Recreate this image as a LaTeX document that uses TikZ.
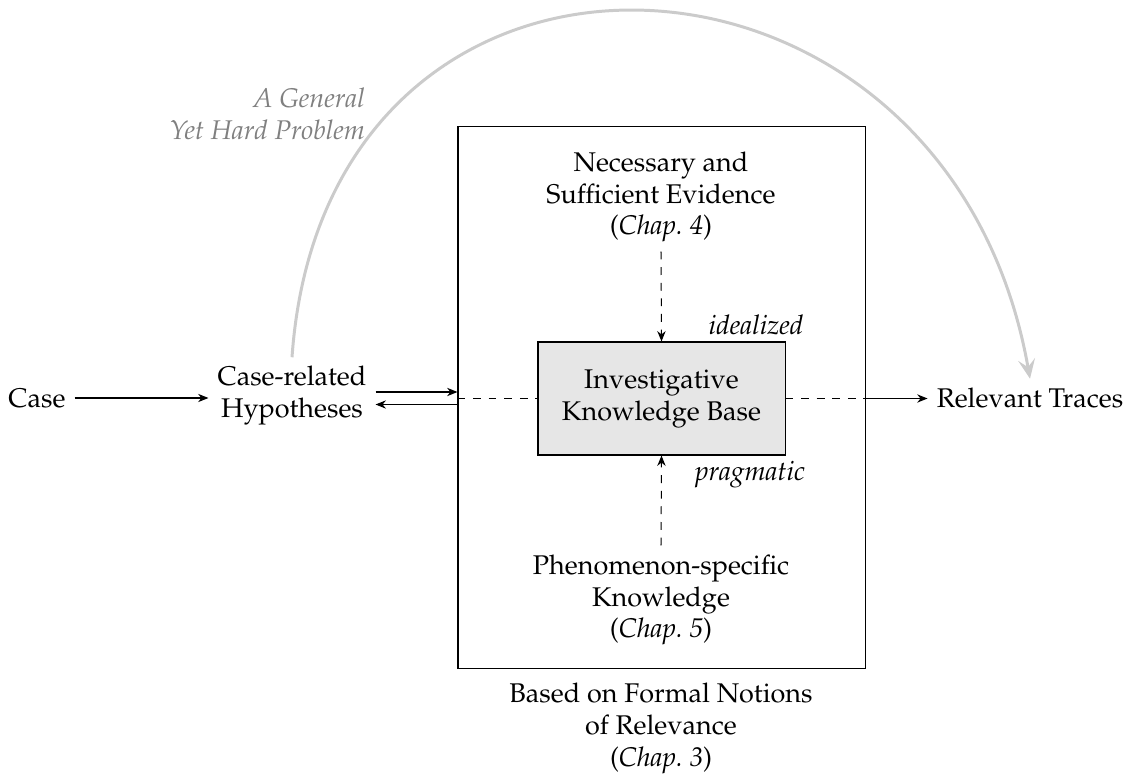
\documentclass[tikz,border=0pt]{standalone}
\usepackage[T1]{fontenc}
\usepackage{mathpazo}
\usetikzlibrary{arrows.meta}
\definecolor{arcgray}{HTML}{CBCBCB}
\definecolor{notegray}{HTML}{808080}
\definecolor{kbfill}{HTML}{E6E6E6}
\begin{document}
\begin{tikzpicture}[x=0.385pt,y=0.385pt,
  every node/.style={font=\fontsize{10.4}{12.3}\selectfont, align=center},
  arr/.style={-{Stealth[length=4pt,width=3.2pt,inset=1.3pt]}, line width=0.4pt},
  dashline/.style={dashed, line width=0.4pt},
  bigarc/.style={arcgray, line width=1.15pt, -{Stealth[length=7.5pt,width=6.5pt,inset=3pt]}},
  note/.style={font=\fontsize{10.4}{12.3}\selectfont\itshape},
  framebox/.style={draw, line width=0.4pt, inner sep=0pt},
  kbbox/.style={draw, fill=kbfill, line width=0.4pt, inner sep=0pt}
]
\useasboundingbox (0,0) rectangle (1126,776);

% outer frame and knowledge base
\node[framebox, minimum width=156.7pt, minimum height=208.3pt] (frame) at (661.5,378.5) {};
\node[kbbox, minimum width=95.1pt, minimum height=43.5pt] (kb) at (661.5,377.5) {Investigative\\Knowledge Base};

% texts
\node (case) at (37,378) {Case};
\node (hyp) at (292,380) {Case-related\\Hypotheses};
\node (traces) at (1030,378) {Relevant Traces};
\node (nec) at (661,579) {Necessary and\\Sufficient Evidence\\(\textit{Chap.~4})};
\node (phen) at (661,176) {Phenomenon-specific\\Knowledge\\(\textit{Chap.~5})};
\node (based) at (661,48) {Based on Formal Notions\\of Relevance\\(\textit{Chap.~3})};
\node[note] (ideal) at (756,451) {idealized};
\node[note] (prag) at (750,302) {pragmatic};
\node[note, notegray, align=right, anchor=east] (general) at (374,662) {A General\\Yet Hard Problem};

% connectors
\draw[arr] (case.east) -- (case.east -| hyp.west);
\draw[arr] (hyp.east |- 0,384) -- (frame.west |- 0,384);
\draw[arr] (frame.west |- 0,371.5) -- (hyp.east |- 0,371.5);
\draw[dashline] (frame.west |- kb.west) -- (kb.west);
\draw[dashline] (kb.east) -- (kb.east -| frame.east);
\draw[arr] (kb.east -| frame.east) -- (kb.east -| traces.west);
\draw[arr, dashline] (nec.south) -- (kb.north);
\draw[arr, dashline] (phen.north) -- (kb.south);

% the direct route
\draw[bigarc] (hyp.north) to[out=86, in=100, looseness=1.66] (traces.north);
\end{tikzpicture}
\end{document}
